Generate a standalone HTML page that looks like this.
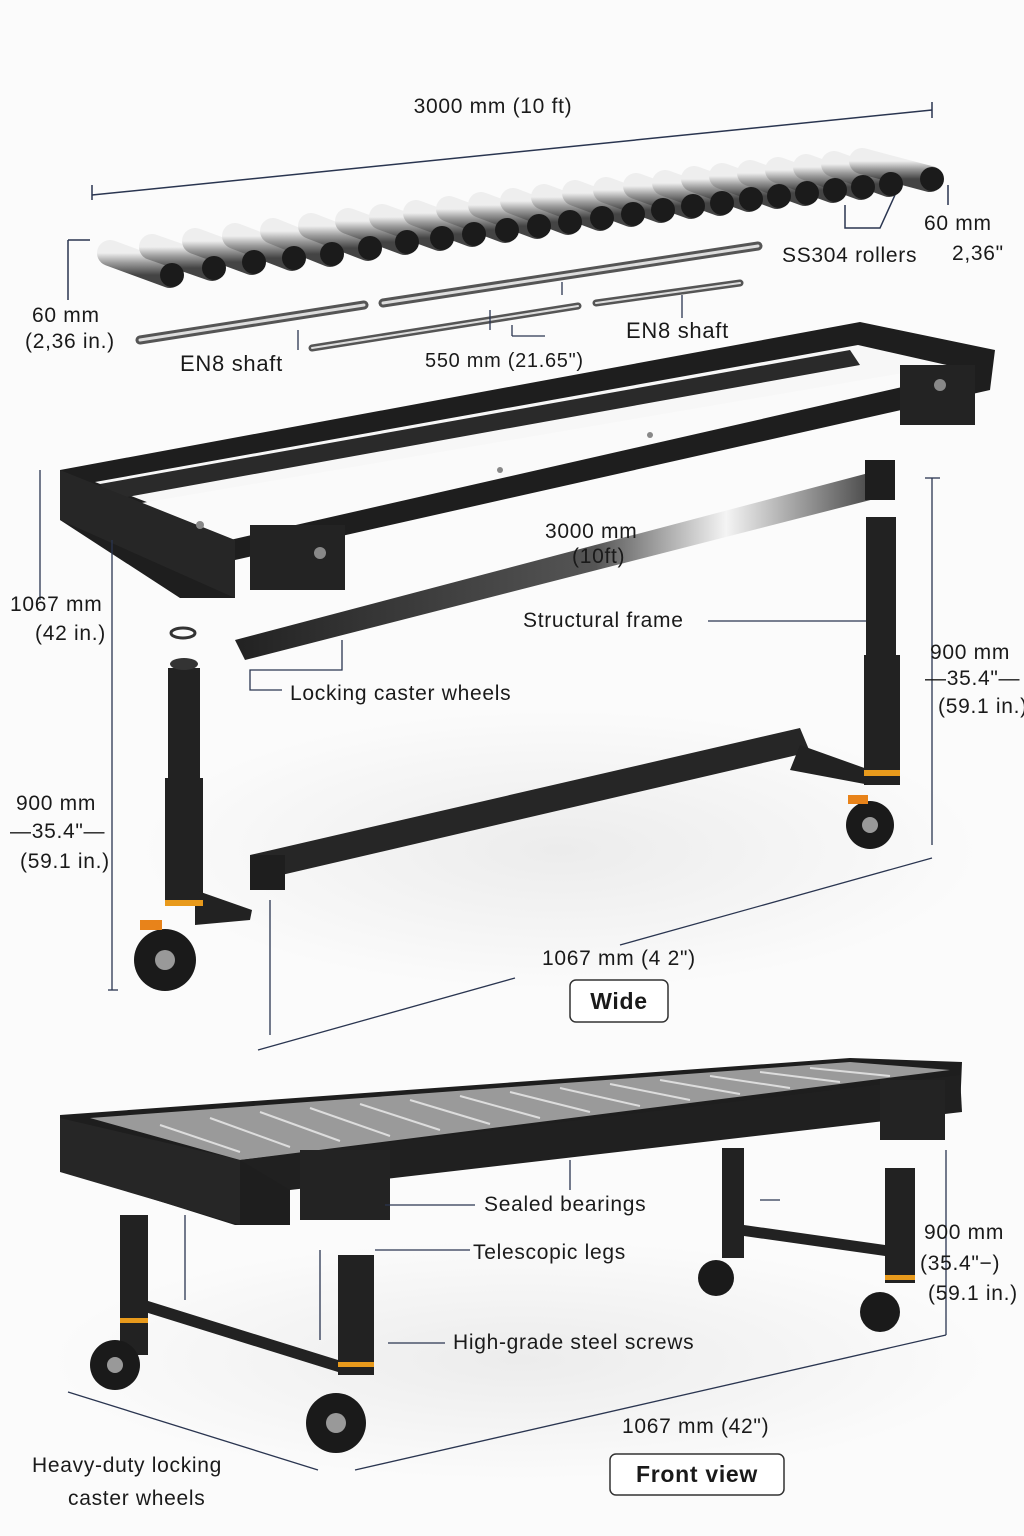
<!DOCTYPE html>
<html><head><meta charset="utf-8"><style>
html,body{margin:0;padding:0;background:#fff}
svg{display:block}
text{font-family:"Liberation Sans",sans-serif;fill:#1a1a1a;letter-spacing:0.7px}
</style></head><body>
<svg width="1024" height="1536" viewBox="0 0 1024 1536" xmlns="http://www.w3.org/2000/svg">
<defs>
<linearGradient id="rol" x1="0" y1="0" x2="0" y2="1">
<stop offset="0" stop-color="#eee"/><stop offset=".45" stop-color="#9a9a9a"/><stop offset="1" stop-color="#444"/></linearGradient>
<linearGradient id="bar" x1="0" y1="0" x2="1" y2="0">
<stop offset="0" stop-color="#222"/><stop offset=".55" stop-color="#555"/><stop offset=".75" stop-color="#f4f4f4"/><stop offset="1" stop-color="#333"/></linearGradient>
<radialGradient id="flr" cx=".5" cy=".5" r=".5"><stop offset="0" stop-color="#ececec"/><stop offset="1" stop-color="#fbfbfb"/></radialGradient>
</defs>
<rect width="1024" height="1536" fill="#fbfbfb"/>
<ellipse cx="560" cy="850" rx="420" ry="140" fill="url(#flr)"/>
<ellipse cx="520" cy="1360" rx="470" ry="120" fill="url(#flr)"/>

<g stroke="#2a3550" stroke-width="1.5" fill="none">
<line x1="92" y1="195" x2="932" y2="110"/><line x1="92" y1="185" x2="92" y2="200"/><line x1="932" y1="102" x2="932" y2="118"/>
<line x1="68" y1="240" x2="68" y2="300"/><line x1="68" y1="240" x2="90" y2="240"/>
<line x1="948" y1="185" x2="948" y2="205"/>
<polyline points="845,205 845,228 880,228 895,195"/>
</g>

<g stroke-linecap="round">
<g stroke="url(#rol)" stroke-width="26">
<line x1="110" y1="253" x2="170" y2="275"/><line x1="152" y1="247" x2="212" y2="268"/><line x1="195" y1="241" x2="252" y2="262"/><line x1="235" y1="236" x2="292" y2="258"/><line x1="273" y1="231" x2="330" y2="254"/><line x1="311" y1="226" x2="368" y2="248"/><line x1="348" y1="221" x2="405" y2="242"/><line x1="382" y1="217" x2="440" y2="238"/><line x1="416" y1="213" x2="472" y2="234"/><line x1="449" y1="209" x2="505" y2="230"/><line x1="481" y1="205" x2="537" y2="226"/><line x1="513" y1="201" x2="568" y2="222"/><line x1="544" y1="197" x2="600" y2="218"/><line x1="575" y1="193" x2="631" y2="214"/><line x1="606" y1="190" x2="661" y2="210"/><line x1="636" y1="186" x2="691" y2="206"/><line x1="665" y1="183" x2="720" y2="203"/><line x1="694" y1="179" x2="749" y2="199"/><line x1="722" y1="176" x2="777" y2="196"/><line x1="750" y1="173" x2="805" y2="193"/><line x1="778" y1="170" x2="833" y2="190"/><line x1="806" y1="167" x2="861" y2="187"/><line x1="834" y1="164" x2="889" y2="184"/><line x1="862" y1="161" x2="930" y2="179"/>
</g>
<g fill="#1b1b1b">
<circle cx="172" cy="275" r="12"/><circle cx="214" cy="268" r="12"/><circle cx="254" cy="262" r="12"/><circle cx="294" cy="258" r="12"/><circle cx="332" cy="254" r="12"/><circle cx="370" cy="248" r="12"/><circle cx="407" cy="242" r="12"/><circle cx="442" cy="238" r="12"/><circle cx="474" cy="234" r="12"/><circle cx="507" cy="230" r="12"/><circle cx="539" cy="226" r="12"/><circle cx="570" cy="222" r="12"/><circle cx="602" cy="218" r="12"/><circle cx="633" cy="214" r="12"/><circle cx="663" cy="210" r="12"/><circle cx="693" cy="206" r="12"/><circle cx="722" cy="203" r="12"/><circle cx="751" cy="199" r="12"/><circle cx="779" cy="196" r="12"/><circle cx="807" cy="193" r="12"/><circle cx="835" cy="190" r="12"/><circle cx="863" cy="187" r="12"/><circle cx="891" cy="184" r="12"/><circle cx="932" cy="179" r="12"/>
</g>
</g>

<g stroke-linecap="round">
<line x1="140" y1="340" x2="364" y2="305" stroke="#555" stroke-width="9"/>
<line x1="140" y1="340" x2="364" y2="305" stroke="#ddd" stroke-width="3"/>
<line x1="383" y1="303" x2="758" y2="246" stroke="#555" stroke-width="9"/>
<line x1="383" y1="303" x2="758" y2="246" stroke="#ddd" stroke-width="3"/>
<line x1="312" y1="348" x2="578" y2="306" stroke="#555" stroke-width="7"/>
<line x1="312" y1="348" x2="578" y2="306" stroke="#ddd" stroke-width="2"/>
<line x1="596" y1="303" x2="740" y2="283" stroke="#555" stroke-width="7"/>
<line x1="596" y1="303" x2="740" y2="283" stroke="#ddd" stroke-width="2"/>
</g>
<g stroke="#2a3550" stroke-width="1.3" fill="none">
<line x1="298" y1="350" x2="298" y2="330"/><line x1="490" y1="330" x2="490" y2="310"/><line x1="512" y1="325" x2="512" y2="336"/><line x1="512" y1="336" x2="545" y2="336"/><line x1="682" y1="295" x2="682" y2="318"/><line x1="562" y1="282" x2="562" y2="295"/>
</g>

<!-- exploded frame -->
<g>
<polygon points="60,470 860,322 995,350 990,390 235,560 235,598 180,598 60,520" fill="#1e1e1e"/>
<polygon points="95,482 858,345 960,368 232,535" fill="#f7f7f7"/>
<polygon points="100,484 850,350 860,365 110,500" fill="#2a2a2a"/>
<polygon points="130,505 950,365 955,375 230,540" fill="#fafafa"/>
<polygon points="60,470 235,540 235,598 60,520" fill="#262626"/>
<rect x="250" y="525" width="95" height="65" fill="#232323"/>
<rect x="900" y="365" width="75" height="60" fill="#232323"/>
<g fill="#888"><circle cx="320" cy="553" r="6"/><circle cx="940" cy="385" r="6"/><circle cx="200" cy="525" r="4"/><circle cx="500" cy="470" r="3"/><circle cx="650" cy="435" r="3"/></g>
</g>
<g stroke="#2a3550" stroke-width="1.3" fill="none">
<line x1="40" y1="470" x2="40" y2="600"/><line x1="112" y1="540" x2="112" y2="990"/><line x1="108" y1="990" x2="118" y2="990"/>
<line x1="932" y1="478" x2="932" y2="845"/><line x1="925" y1="478" x2="940" y2="478"/>
<line x1="258" y1="1050" x2="515" y2="978"/><line x1="620" y1="945" x2="932" y2="858"/>
<line x1="270" y1="900" x2="270" y2="1035"/>
<line x1="708" y1="621" x2="870" y2="621"/>
<polyline points="342,640 342,670 250,670 250,690 282,690"/>
</g>

<polygon points="235,640 880,470 890,495 245,660" fill="url(#bar)"/>
<polygon points="250,855 800,728 810,752 260,880" fill="#262626"/>
<rect x="865" y="460" width="30" height="40" fill="#1e1e1e"/>
<rect x="250" y="855" width="35" height="35" fill="#1e1e1e"/>
<g fill="#222">
<rect x="168" y="668" width="32" height="110"/><rect x="165" y="778" width="38" height="125"/>
<polygon points="195,890 252,910 250,920 195,925"/>
<rect x="866" y="517" width="30" height="140"/><rect x="864" y="655" width="36" height="130"/>
<polygon points="800,745 870,770 870,785 790,770"/>
</g>
<rect x="165" y="900" width="38" height="6" fill="#e89a1c"/>
<rect x="864" y="770" width="36" height="6" fill="#e89a1c"/>
<circle cx="165" cy="960" r="31" fill="#1a1a1a"/><circle cx="165" cy="960" r="10" fill="#999"/>
<rect x="140" y="920" width="22" height="10" fill="#e8831a"/>
<circle cx="870" cy="825" r="24" fill="#1a1a1a"/><circle cx="870" cy="825" r="8" fill="#999"/>
<rect x="848" y="795" width="20" height="9" fill="#e8831a"/>
<ellipse cx="183" cy="633" rx="12" ry="5" fill="none" stroke="#333" stroke-width="3"/>
<ellipse cx="184" cy="664" rx="14" ry="6" fill="#333"/>

<!-- assembled conveyor -->
<polygon points="60,1115 850,1058 962,1062 960,1110 290,1180 290,1225 235,1225 60,1170" fill="#1e1e1e"/>
<polygon points="90,1118 850,1062 950,1070 240,1160" fill="#9a9a9a"/>
<g stroke="#ddd" stroke-width="2">
<line x1="160" y1="1125" x2="240" y2="1152"/><line x1="210" y1="1118" x2="290" y2="1147"/><line x1="260" y1="1112" x2="340" y2="1141"/><line x1="310" y1="1108" x2="390" y2="1136"/><line x1="360" y1="1104" x2="440" y2="1130"/><line x1="410" y1="1100" x2="490" y2="1124"/><line x1="460" y1="1096" x2="540" y2="1118"/><line x1="510" y1="1092" x2="590" y2="1112"/><line x1="560" y1="1088" x2="640" y2="1106"/><line x1="610" y1="1084" x2="690" y2="1100"/><line x1="660" y1="1080" x2="740" y2="1094"/><line x1="710" y1="1076" x2="790" y2="1088"/><line x1="760" y1="1072" x2="840" y2="1082"/><line x1="810" y1="1068" x2="890" y2="1076"/>
</g>
<polygon points="240,1160 960,1075 962,1112 290,1190" fill="#202020"/>
<polygon points="60,1118 240,1160 240,1225 60,1172" fill="#262626"/>
<rect x="300" y="1150" width="90" height="70" fill="#232323"/>
<rect x="880" y="1080" width="65" height="60" fill="#232323"/>
<g fill="#222">
<rect x="120" y="1215" width="28" height="140"/><rect x="338" y="1255" width="36" height="120"/>
<polygon points="145,1300 338,1360 338,1372 145,1312"/>
<rect x="722" y="1148" width="22" height="110"/><rect x="885" y="1168" width="30" height="115"/>
<polygon points="744,1225 885,1245 885,1256 744,1236"/>
</g>
<g fill="#e89a1c"><rect x="120" y="1318" width="28" height="5"/><rect x="338" y="1362" width="36" height="5"/><rect x="885" y="1275" width="30" height="5"/></g>
<circle cx="115" cy="1365" r="25" fill="#1a1a1a"/><circle cx="115" cy="1365" r="8" fill="#999"/>
<circle cx="336" cy="1423" r="30" fill="#1a1a1a"/><circle cx="336" cy="1423" r="10" fill="#999"/>
<circle cx="716" cy="1278" r="18" fill="#1a1a1a"/><circle cx="880" cy="1312" r="20" fill="#1a1a1a"/>
<g stroke="#2a3550" stroke-width="1.3" fill="none">
<line x1="570" y1="1160" x2="570" y2="1190"/><line x1="385" y1="1205" x2="475" y2="1205"/>
<line x1="375" y1="1250" x2="470" y2="1250"/><line x1="388" y1="1343" x2="445" y2="1343"/>
<line x1="185" y1="1215" x2="185" y2="1300"/><line x1="320" y1="1250" x2="320" y2="1340"/>
<line x1="946" y1="1150" x2="946" y2="1335"/>
<line x1="68" y1="1392" x2="318" y2="1470"/><line x1="355" y1="1470" x2="946" y2="1335"/>
<line x1="760" y1="1200" x2="780" y2="1200"/>
</g>

<!-- all text on top -->
<text x="493" y="113" font-size="21" text-anchor="middle">3000 mm (10 ft)</text>
<text x="924" y="230" font-size="21">60 mm</text>
<text x="782" y="262" font-size="21">SS304 rollers</text>
<text x="952" y="260" font-size="21">2,36"</text>
<text x="32" y="322" font-size="21">60 mm</text>
<text x="25" y="348" font-size="21">(2,36 in.)</text>
<text x="180" y="371" font-size="22">EN8 shaft</text>
<text x="626" y="338" font-size="22">EN8 shaft</text>
<text x="425" y="367" font-size="20">550 mm (21.65")</text>
<text x="10" y="611" font-size="21">1067 mm</text>
<text x="35" y="640" font-size="21">(42 in.)</text>
<text x="16" y="810" font-size="21">900 mm</text>
<text x="10" y="838" font-size="21">—35.4"—</text>
<text x="20" y="868" font-size="21">(59.1 in.)</text>
<text x="930" y="659" font-size="21">900 mm</text>
<text x="925" y="685" font-size="21">—35.4"—</text>
<text x="938" y="713" font-size="21">(59.1 in.)</text>
<text x="545" y="538" font-size="21">3000 mm</text>
<text x="572" y="563" font-size="21">(10ft)</text>
<text x="523" y="627" font-size="21">Structural frame</text>
<text x="290" y="700" font-size="21">Locking caster wheels</text>
<text x="542" y="965" font-size="21">1067 mm (4 2")</text>
<rect x="570" y="980" width="98" height="42" rx="6" fill="#fff" stroke="#333" stroke-width="1.5"/>
<text x="619" y="1009" font-size="23" font-weight="bold" text-anchor="middle">Wide</text>
<text x="484" y="1211" font-size="21">Sealed bearings</text>
<text x="473" y="1259" font-size="21">Telescopic legs</text>
<text x="453" y="1349" font-size="21">High-grade steel screws</text>
<text x="924" y="1239" font-size="21">900 mm</text>
<text x="920" y="1270" font-size="21">(35.4"−)</text>
<text x="928" y="1300" font-size="21">(59.1 in.)</text>
<text x="622" y="1433" font-size="21">1067 mm (42")</text>
<rect x="610" y="1454" width="174" height="41" rx="6" fill="#fff" stroke="#333" stroke-width="1.5"/>
<text x="697" y="1482" font-size="23" font-weight="bold" text-anchor="middle">Front view</text>
<text x="32" y="1472" font-size="21">Heavy-duty locking</text>
<text x="68" y="1505" font-size="21">caster wheels</text>
</svg>
</body></html>
